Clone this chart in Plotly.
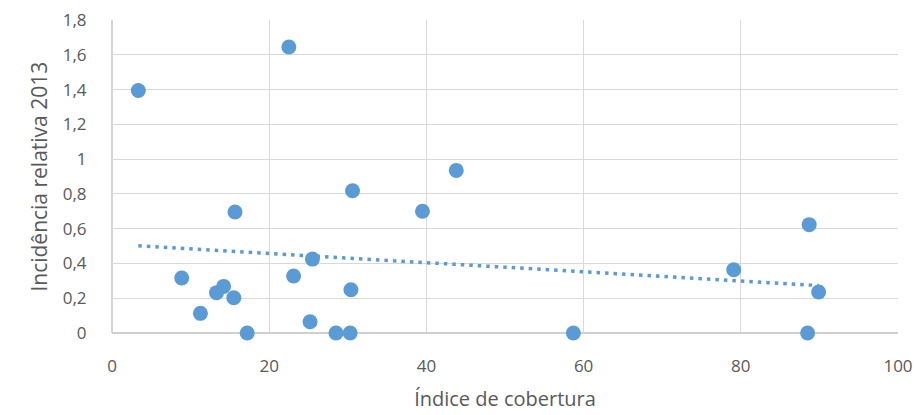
import numpy as np
import plotly.graph_objects as go

cobertura = [3.35, 22.5, 30.6, 43.8, 15.65, 39.5, 25.5, 8.87, 23.1, 14.2, 13.3, 15.5,
             30.4, 11.25, 25.2, 17.2, 28.5, 30.3, 88.7, 79.1, 89.9, 58.7, 88.5]
incidencia = [1.395, 1.645, 0.818, 0.935, 0.696, 0.70, 0.425, 0.316, 0.328, 0.268, 0.232, 0.203,
              0.249, 0.113, 0.065, 0.0, 0.0, 0.0, 0.623, 0.364, 0.236, 0.0, 0.0]

x_ticks = [0, 20, 40, 60, 80, 100]
y_ticks = [0, 0.2, 0.4, 0.6, 0.8, 1.0, 1.2, 1.4, 1.6, 1.8]
y_labels = ["0", "0,2", "0,4", "0,6", "0,8", "1", "1,2", "1,4", "1,6", "1,8"]

slope, intercept = np.polyfit(cobertura, incidencia, 1)
tx = [min(cobertura), max(cobertura)]
ty = [slope * v + intercept for v in tx]

blue = "#5B9BD5"
grey_text = "#595959"
font_family = "Open Sans, Lato, sans-serif"

fig = go.Figure()
fig.add_trace(go.Scatter(x=tx, y=ty, mode="lines",
                         line=dict(color=blue, width=3.5, dash="3.5px,5px"),
                         hoverinfo="skip", showlegend=False))
fig.add_trace(go.Scatter(x=cobertura, y=incidencia, mode="markers",
                         marker=dict(color=blue, size=15, line=dict(width=0)),
                         showlegend=False, cliponaxis=False))

fig.update_layout(
    width=917, height=415,
    margin=dict(l=112, r=19, t=20, b=82),
    paper_bgcolor="white", plot_bgcolor="white",
    separators=", ",
    font=dict(family=font_family, color=grey_text, size=15),
    xaxis=dict(range=[0, 100], tickvals=x_ticks, ticktext=[str(v) for v in x_ticks],
               showgrid=True, gridcolor="#D9D9D9", gridwidth=1.3,
               zeroline=False, showline=False, automargin=False,
               ticks="outside", ticklen=18, tickcolor="rgba(0,0,0,0)",
               tickfont=dict(size=17, color=grey_text),
               title=dict(text="Índice de cobertura", font=dict(size=20, color=grey_text))),
    yaxis=dict(range=[0, 1.8], tickvals=y_ticks, ticktext=y_labels,
               showgrid=True, gridcolor="#D9D9D9", gridwidth=1.3,
               zeroline=False, showline=False, automargin=False,
               ticks="outside", ticklen=21, tickcolor="rgba(0,0,0,0)",
               tickfont=dict(size=17, color=grey_text)),
    annotations=[dict(text="Incidência relativa 2013", textangle=-90,
                      xref="paper", yref="paper", x=-0.094, y=0.5,
                      xanchor="center", yanchor="middle", showarrow=False,
                      font=dict(size=21, color=grey_text))],
)
fig.add_shape(type="line", xref="paper", yref="paper", x0=0, x1=0, y0=0, y1=1,
              line=dict(color="#BFBFBF", width=1.3), layer="below")
fig.add_shape(type="line", xref="paper", yref="paper", x0=0, x1=1, y0=0, y1=0,
              line=dict(color="#BFBFBF", width=1.3), layer="below")

fig.write_html("out.html", config={"displayModeBar": False},
               post_script="document.body.style.margin='0';")
